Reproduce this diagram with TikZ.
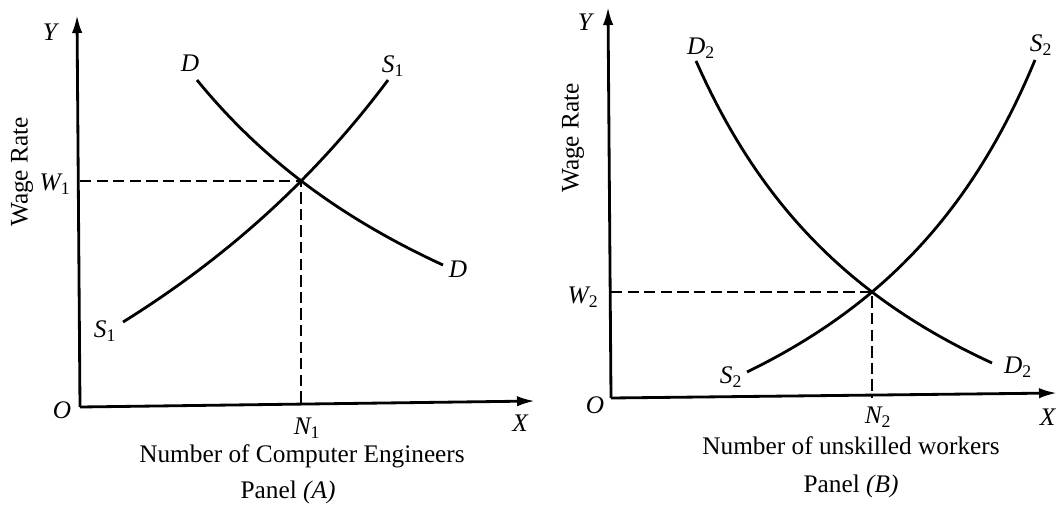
\documentclass[tikz,border=0pt]{standalone}
\usepackage{fontspec}
\setmainfont{Liberation Serif}
\usetikzlibrary{arrows.meta,positioning}
\newcommand{\lbl}[2]{\textit{#1}\textsubscript{\upshape#2}}

\begin{document}
\begin{tikzpicture}[x=0.025cm,y=-0.025cm,>={Latex[length=4.5mm,width=2.6mm]},font=\fontsize{18}{21}\selectfont]
  \tikzstyle{axis}=[line width=2pt,->]
  \tikzstyle{curve}=[line width=2pt,samples=60]
  \tikzstyle{guide}=[line width=1.3pt,dash pattern=on 8pt off 3.8pt]
  \tikzstyle{lab}=[inner sep=1pt,font=\fontsize{18}{21}\selectfont\itshape]
  \useasboundingbox (0,0) rectangle (1057,507);

  % panel A
  \coordinate (oA) at (80,407);
  \coordinate (yA) at (77,15);
  \coordinate (xA) at (535,401);
  \coordinate (eA) at (301,181);
  \draw[axis] (oA) -- (yA);
  \draw[axis] (oA) -- (xA);
  \node[lab] (OA) at (62,410) {O};
  \node[lab] (YA) at (50,32) {Y};
  \node[lab] (XA) at (520,423) {X};
  \node[lab] (WA) at (55,184) {\lbl{W}{1}};
  \node[lab] (NA) at (307,428) {\lbl{N}{1}};
  \draw[guide] (oA |- eA) -- (eA) -- (eA |- oA);
  \draw[curve] plot[domain=197:443] (\x,{557.1-1853.01/((\x+191.4)/100)});
  \draw[curve] plot[domain=123:388] (\x,{842.1-4339.84/((957.5-\x)/100)});
  \node[lab] (DA1) at (190,63) {D};
  \node[lab] (DA2) at (458,269) {D};
  \node[lab] (SA1) at (393,66) {\lbl{S}{1}};
  \node[lab] (SA2) at (105,331) {\lbl{S}{1}};
  \node[rotate=90] (wrA) at (22,172) {Wage Rate};
  \node (titA) at (302,456) {Number of Computer Engineers};
  \node (panA) at (288,492) {Panel \textit{(A)}};

  % panel B
  \coordinate (oB) at (611,398);
  \coordinate (yB) at (608,7);
  \coordinate (xB) at (1057,393);
  \coordinate (eB) at (872,292);
  \draw[axis] (oB) -- (yB);
  \draw[axis] (oB) -- (xB);
  \node[lab] (OB) at (595,405) {O};
  \node[lab] (YB) at (585,22) {Y};
  \node[lab,anchor=east] (XB) at (1057,417) {X};
  \node[lab] (WB) at (583,297) {\lbl{W}{2}};
  \node[lab] (NB) at (878,417) {\lbl{N}{2}};
  \draw[guide] (oB |- eB) -- (eB) -- (eB |- oB);
  \draw[curve] plot[domain=696:992] (\x,{610.9-1336.35/((\x-453)/100)});
  \draw[curve] plot[domain=747:1035] (\x,{626.9-1333.95/((1270.3-\x)/100)});
  \node[lab] (DB1) at (701,48) {\lbl{D}{2}};
  \node[lab] (DB2) at (1018,367) {\lbl{D}{2}};
  \node[lab] (SB1) at (1041,45) {\lbl{S}{2}};
  \node[lab] (SB2) at (731,377) {\lbl{S}{2}};
  \node[rotate=90] (wrB) at (573,138) {Wage Rate};
  \node (titB) at (851,446) {Number of unskilled workers};
  \node (panB) at (851,486) {Panel \textit{(B)}};
\end{tikzpicture}
\end{document}
